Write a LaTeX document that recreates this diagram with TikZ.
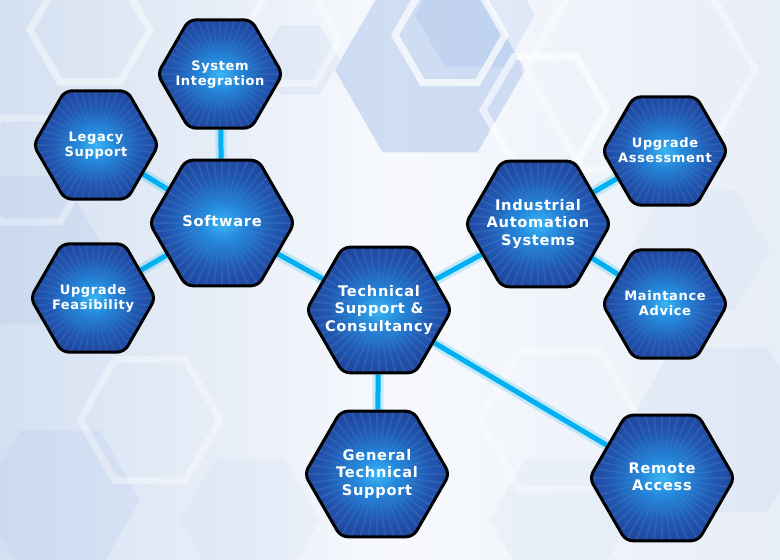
\documentclass[tikz,border=0pt]{standalone}
\usepackage{fontspec}
\setmainfont{DejaVu Sans}[LetterSpace=5]
\usetikzlibrary{shapes.geometric}
\definecolor{hexA}{RGB}{58,182,244}
\definecolor{hexB}{RGB}{38,138,220}
\definecolor{hexC}{RGB}{32,88,178}
\definecolor{hexD}{RGB}{30,58,146}
\definecolor{hexE}{RGB}{28,44,122}
\definecolor{conncol}{RGB}{0,176,240}
\definecolor{bgL}{RGB}{212,224,241}
\definecolor{bgM}{RGB}{247,249,253}
\definecolor{bgR}{RGB}{232,238,247}
\definecolor{bgblue}{RGB}{120,160,225}
\pgfdeclareradialshading{hexshade}{\pgfpoint{0bp}{0bp}}{color(0bp)=(hexA); color(7bp)=(hexB); color(18bp)=(hexC); color(32bp)=(hexD); color(50bp)=(hexE)}
\pgfdeclarelayer{bgimg}
\pgfdeclarelayer{background}
\pgfsetlayers{bgimg,background,main}
\newcommand{\hexlabel}[1]{\smash{\makebox[0pt]{\raisebox{-4pt}{\begin{tabular}{@{}c@{}}#1\end{tabular}}}}}
\tikzset{
  hexbase/.style={regular polygon, regular polygon sides=6, inner sep=0pt,
    draw=black, line width=3pt, rounded corners=7pt, shading=hexshade,
    text=white,
    path picture={
      \foreach \a in {0,7.5,...,352.5}{
        \fill[white,opacity=0.08,shift={(path picture bounding box.center)}]
          (\a:22pt) -- (\a-1.1:95pt) -- (\a+1.1:95pt) -- cycle;
      }
    }},
  hexbig/.style={hexbase, minimum size=145pt, font=\bfseries\fontsize{14.6}{17.8}\selectfont},
  hexsmall/.style={hexbase, minimum size=125pt, font=\bfseries\fontsize{13}{15.6}\selectfont},
  conn/.style={conncol, line width=5pt,
    preaction={draw, conncol, line width=11pt, opacity=0.2}},
  bgfill/.style={fill=bgblue, opacity=#1},
  bgline/.style={draw=white, line width=7pt, opacity=#1},
}
\newcommand{\bghex}[4]{\path[#4,shift={(#1,#2)}] (0:#3pt) -- (60:#3pt) -- (120:#3pt) -- (180:#3pt) -- (240:#3pt) -- (300:#3pt) -- cycle;}
\begin{document}
\begin{tikzpicture}[x=1pt,y=-1pt]
\useasboundingbox (0,0) rectangle (780,560);
% nodes
\node[hexsmall] (sysint) at (220,74) {\hexlabel{System\\Integration}};
\node[hexsmall] (legacy) at (96,145) {\hexlabel{Legacy\\Support}};
\node[hexbig] (software) at (222,223) {\hexlabel{Software}};
\node[hexsmall] (feas) at (93,298) {\hexlabel{Upgrade\\Feasibility}};
\node[hexbig] (tech) at (379,310) {\hexlabel{Technical\\Support \&\\Consultancy}};
\node[hexbig] (ind) at (538,224) {\hexlabel{Industrial\\Automation\\Systems}};
\node[hexsmall] (assess) at (665,151) {\hexlabel{Upgrade\\Assessment}};
\node[hexsmall] (maint) at (665,304) {\hexlabel{Maintance\\Advice}};
\node[hexbig] (general) at (377,474) {\hexlabel{General\\Technical\\Support}};
\node[hexbig] (remote) at (662,478) {\hexlabel{Remote\\Access}};
% connectors
\begin{pgfonlayer}{background}
\draw[conn] (sysint) -- (software);
\draw[conn] (legacy) -- (software);
\draw[conn] (feas) -- (software);
\draw[conn] (software) -- (tech);
\draw[conn] (tech) -- (ind);
\draw[conn] (tech) -- (general);
\draw[conn] (tech) -- (remote);
\draw[conn] (ind) -- (assess);
\draw[conn] (ind) -- (maint);
\end{pgfonlayer}
% background
\begin{pgfonlayer}{bgimg}
\shade[left color=bgL, right color=bgR, middle color=bgM] (0,0) rectangle (780,560);
\bghex{430}{70}{95}{bgfill=0.30}
\bghex{475}{15}{60}{bgfill=0.15}
\bghex{300}{60}{40}{bgfill=0.10}
\bghex{20}{250}{85}{bgfill=0.10}
\bghex{60}{500}{80}{bgfill=0.09}
\bghex{720}{430}{95}{bgfill=0.08}
\bghex{250}{520}{70}{bgfill=0.06}
\bghex{560}{520}{70}{bgfill=0.06}
\bghex{700}{250}{70}{bgfill=0.06}
\bghex{450}{35}{55}{bgline=0.7}
\bghex{545}{110}{62}{bgline=0.6}
\bghex{640}{70}{115}{bgline=0.4}
\bghex{90}{30}{60}{bgline=0.45}
\bghex{290}{40}{50}{bgline=0.4}
\bghex{150}{420}{70}{bgline=0.35}
\bghex{560}{420}{80}{bgline=0.35}
\bghex{30}{170}{60}{bgline=0.35}
\end{pgfonlayer}
\end{tikzpicture}
\end{document}
